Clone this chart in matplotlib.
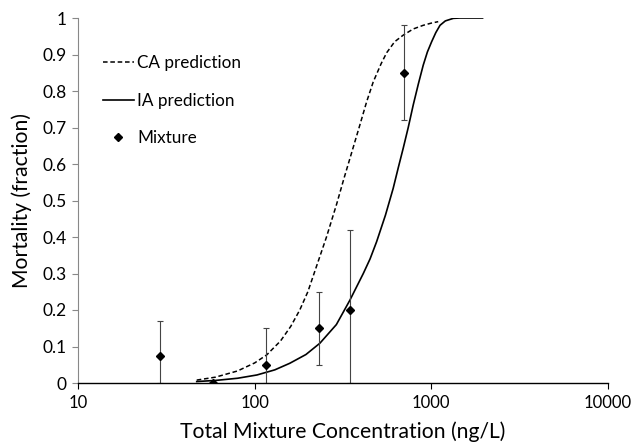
import matplotlib
matplotlib.use("Agg")
import matplotlib.pyplot as plt
from matplotlib.ticker import FixedLocator, NullLocator

plt.rcParams['font.family'] = ['Lato', 'DejaVu Sans']

# CA prediction curve
ca_x = [47, 60, 80, 100, 117, 140, 160, 180, 200, 224, 255, 291, 320, 346, 394, 430, 469, 520, 559, 620, 693, 790, 900, 1000, 1094]
ca_y = [0.008, 0.016, 0.033, 0.055, 0.077, 0.115, 0.155, 0.20, 0.25, 0.32, 0.40, 0.49, 0.56, 0.615, 0.707, 0.77, 0.825, 0.875, 0.905, 0.935, 0.953, 0.97, 0.98, 0.986, 0.99]

# IA prediction curve
ia_x = [47, 60, 80, 103, 130, 158, 195, 234, 290, 346, 412, 450, 490, 550, 608, 650, 693, 740, 790, 845, 900, 950, 1004, 1060, 1120, 1200, 1331, 1450, 1652, 1950]
ia_y = [0.004, 0.007, 0.013, 0.022, 0.036, 0.054, 0.078, 0.109, 0.16, 0.227, 0.30, 0.34, 0.387, 0.46, 0.533, 0.59, 0.643, 0.70, 0.762, 0.82, 0.871, 0.907, 0.935, 0.96, 0.98, 0.992, 0.999, 1.0, 1.0, 1.0]

# Mixture observations
mix_x = [29, 58, 116, 231, 346, 700]
mix_y = [0.075, 0.0, 0.05, 0.15, 0.20, 0.85]
mix_lo = [0.0, 0.0, 0.0, 0.05, 0.0, 0.72]
mix_hi = [0.17, 0.0, 0.15, 0.25, 0.42, 0.98]

y_ticks = [0, 0.1, 0.2, 0.3, 0.4, 0.5, 0.6, 0.7, 0.8, 0.9, 1]
y_tick_labels = ['0', '0.1', '0.2', '0.3', '0.4', '0.5', '0.6', '0.7', '0.8', '0.9', '1']
x_ticks = [10, 100, 1000, 10000]
x_tick_labels = ['10', '100', '1000', '10000']

fig = plt.figure(figsize=(6.32, 4.42), dpi=100)
ax = fig.add_axes([78/632, 1 - 383/442, (608-78)/632, (383-18)/442])

ax.plot(ca_x, ca_y, color='black', lw=1.1, ls=(0, (3, 1.8)), label='CA prediction')
ax.plot(ia_x, ia_y, color='black', lw=1.2, ls='-', label='IA prediction')

err_lo = [y - lo for y, lo in zip(mix_y, mix_lo)]
err_hi = [hi - y for y, hi in zip(mix_y, mix_hi)]
ax.errorbar(mix_x, mix_y, yerr=[err_lo, err_hi], fmt='none', ecolor='#444444',
            elinewidth=0.8, capsize=2.5, capthick=0.8)
ax.plot(mix_x, mix_y, ls='none', marker='D', ms=3.8, color='black', label='Mixture')

ax.set_xscale('log')
ax.set_xlim(10, 10000)
ax.set_ylim(0, 1)
ax.xaxis.set_major_locator(FixedLocator(x_ticks))
ax.xaxis.set_minor_locator(NullLocator())
ax.set_xticklabels(x_tick_labels)
ax.set_yticks(y_ticks)
ax.set_yticklabels(y_tick_labels)

for s in ['top', 'right']:
    ax.spines[s].set_visible(False)
ax.spines['left'].set_color('#888888')
ax.spines['bottom'].set_color('black')
ax.spines['bottom'].set_linewidth(1.0)
ax.tick_params(axis='y', direction='out', length=4, color='#888888', labelsize=12.5, pad=4)
ax.tick_params(axis='x', direction='out', length=4, color='black', labelsize=12, pad=5)

ax.set_xlabel('Total Mixture Concentration (ng/L)', fontsize=15.2, labelpad=7)
ax.set_ylabel('Mortality (fraction)', fontsize=15.2, labelpad=8)

ax.legend(loc='upper left', bbox_to_anchor=(0.018, 0.94), frameon=False, fontsize=12.3,
          handlelength=1.8, handletextpad=0.2, labelspacing=1.25)

fig.savefig('out.png', dpi=100)
